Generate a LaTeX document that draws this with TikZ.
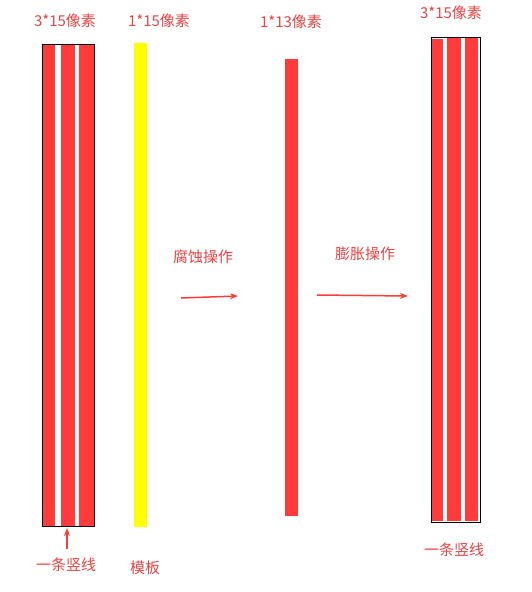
\documentclass[tikz,border=0pt]{standalone}
\usepackage{fontspec}
\newfontfamily\cjk{Noto Sans CJK SC}
\usetikzlibrary{arrows.meta}
\definecolor{barred}{HTML}{FF3B3B}
\definecolor{txtred}{HTML}{E84444}
\definecolor{baryel}{HTML}{FFFF00}
\tikzset{
  lbl/.style={font=\cjk\fontsize{15}{17}\selectfont, text=txtred, inner sep=0pt},
  bar/.style={fill=barred, draw=none},
  outline/.style={draw=black, line width=0.9pt},
  arr/.style={draw=barred, line width=1.5pt, -{Stealth[length=8pt,width=6pt]}},
}
\begin{document}
\begin{tikzpicture}[x=1pt,y=-1pt]
\useasboundingbox (0,0) rectangle (531,592);
% left 3-stripe box
\fill[barred] (42,44) rectangle (55,526);
\fill[barred] (61,44) rectangle (75,526);
\fill[barred] (79,44) rectangle (94,526);
\node[outline, minimum width=52pt, minimum height=482pt, inner sep=0pt, anchor=north west] (left) at (42,44) {};
% yellow template
\node[fill=baryel, minimum width=13pt, minimum height=484pt, inner sep=0pt, anchor=north west] (tmpl) at (134,43) {};
% eroded bar
\node[bar, minimum width=13pt, minimum height=457pt, inner sep=0pt, anchor=north west] (mid) at (285,59) {};
% right 3-stripe box
\fill[barred] (431,39) rectangle (443,521);
\fill[barred] (447,38) rectangle (461,521);
\fill[barred] (465,38) rectangle (478,521);
\node[outline, minimum width=49pt, minimum height=485pt, inner sep=0pt, anchor=north west] (right) at (431,37) {};
% labels
\node[lbl] (l1) at (65,21) {3*15像素};
\node[lbl] (l2) at (159,21) {1*15像素};
\node[lbl] (l3) at (291,22) {1*13像素};
\node[lbl] (l4) at (451,13) {3*15像素};
\node[lbl] (ero) at (203,257) {腐蚀操作};
\node[lbl] (dil) at (365,254) {膨胀操作};
\node[lbl] (line1) at (66,565) {一条竖线};
\node[lbl] (mb) at (145,568) {模板};
\node[lbl] (line2) at (454,550) {一条竖线};
% arrows
\coordinate (a1s) at (181,298);
\coordinate (a1e) at (238,296);
\coordinate (a2s) at (317,295);
\coordinate (a2e) at (408,296);
\draw[arr] (a1s) -- (a1e);
\draw[arr] (a2s) -- (a2e);
\coordinate (a3s) at (67,549);
\coordinate (a3e) at (67,528);
\draw[arr, line width=1.4pt] (a3s) -- (a3e);
\end{tikzpicture}
\end{document}
